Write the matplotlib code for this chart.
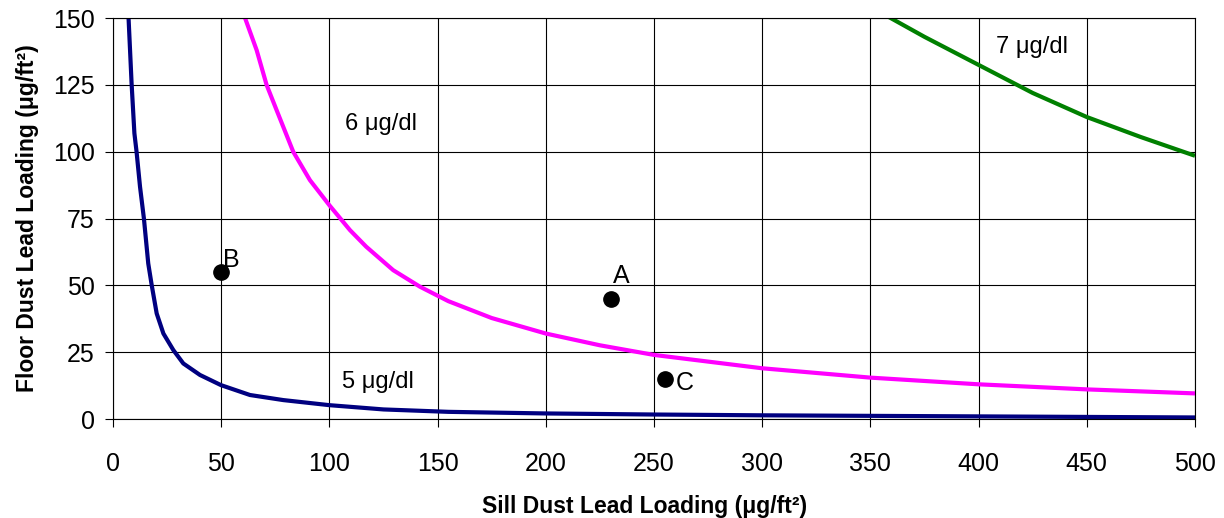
import numpy as np
import matplotlib.pyplot as plt

plt.rcParams['font.family'] = ['Liberation Sans', 'DejaVu Sans']

# curves (sill, floor)
sill_5 = [7.1, 8.6, 9.9, 10.9, 12.5, 14.3, 16.3, 17.9, 20.2, 23.3, 27.9, 32.5, 40.2, 49.9,
          63.3, 78.7, 100, 125, 155, 200, 250, 300, 400, 500]
floor_5 = [151.8, 125.6, 106.9, 100, 86.9, 75, 58.2, 50.1, 39.5, 32, 25.8, 20.8, 16.5, 12.7,
           9, 7.1, 5.2, 3.6, 2.7, 2.1, 1.7, 1.4, 1.0, 0.6]

sill_6 = [60.6, 66.4, 71, 75.6, 83.3, 91, 100, 109.5, 117, 129.5, 141.9, 155, 175, 200,
          225, 250, 300, 350, 400, 450, 500]
floor_6 = [151, 138, 125, 115.6, 100, 89.4, 80, 70.7, 64.5, 55.7, 49.5, 44.1, 37.8, 32,
           27.6, 24, 19, 15.5, 13, 11.1, 9.6]

sill_7 = [355, 375, 400, 425, 450, 475, 500]
floor_7 = [152, 143, 132.5, 122, 113, 105.5, 98.5]

# sample points
pt_names = ['A', 'B', 'C']
pt_sill = [230, 50, 255]
pt_floor = [45, 55, 15]

fig = plt.figure(figsize=(12.24, 5.18), dpi=100)
ax = fig.add_axes([0.0923, 0.191, 0.8840, 0.774])

ax.plot(sill_5, floor_5, color='#000080', lw=3, solid_capstyle='butt')
ax.plot(sill_6, floor_6, color='#FF00FF', lw=3, solid_capstyle='butt')
ax.plot(sill_7, floor_7, color='#008000', lw=3, solid_capstyle='butt')
ax.plot(pt_sill, pt_floor, 'o', color='black', ms=11, zorder=5)

fs = 18
ax.text(231, 50.8, 'A', fontsize=fs, ha='left', va='baseline')
ax.text(50.8, 56.9, 'B', fontsize=fs, ha='left', va='baseline')
ax.text(260, 10.8, 'C', fontsize=fs, ha='left', va='baseline')

ax.text(107, 108.1, '6 μg/dl', fontsize=fs - 1, va='baseline')
ax.text(105.7, 11.6, '5 μg/dl', fontsize=fs - 1, va='baseline')
ax.text(408, 136.8, '7 μg/dl', fontsize=fs - 1, va='baseline')

ax.set_xlim(0, 500)
ax.set_ylim(0, 150)
ax.set_xticks(np.arange(0, 501, 50))
ax.set_yticks(np.arange(0, 151, 25))
ax.grid(True, color='black', lw=0.8)
ax.tick_params(labelsize=fs, length=6, width=0.8, direction='out')
ax.tick_params(axis='x', pad=18)
ax.tick_params(axis='y', pad=7)
for s in ax.spines.values():
    s.set_color('black')
    s.set_linewidth(0.8)

ax.set_xlabel('Sill Dust Lead Loading (μg/ft²)', fontsize=16.5, fontweight='bold', labelpad=12)
ax.xaxis.set_label_coords(0.491, -0.19)
ax.set_ylabel('Floor Dust Lead Loading (μg/ft²)', fontsize=16.5, fontweight='bold', labelpad=10)

fig.savefig('out.png', dpi=100)
